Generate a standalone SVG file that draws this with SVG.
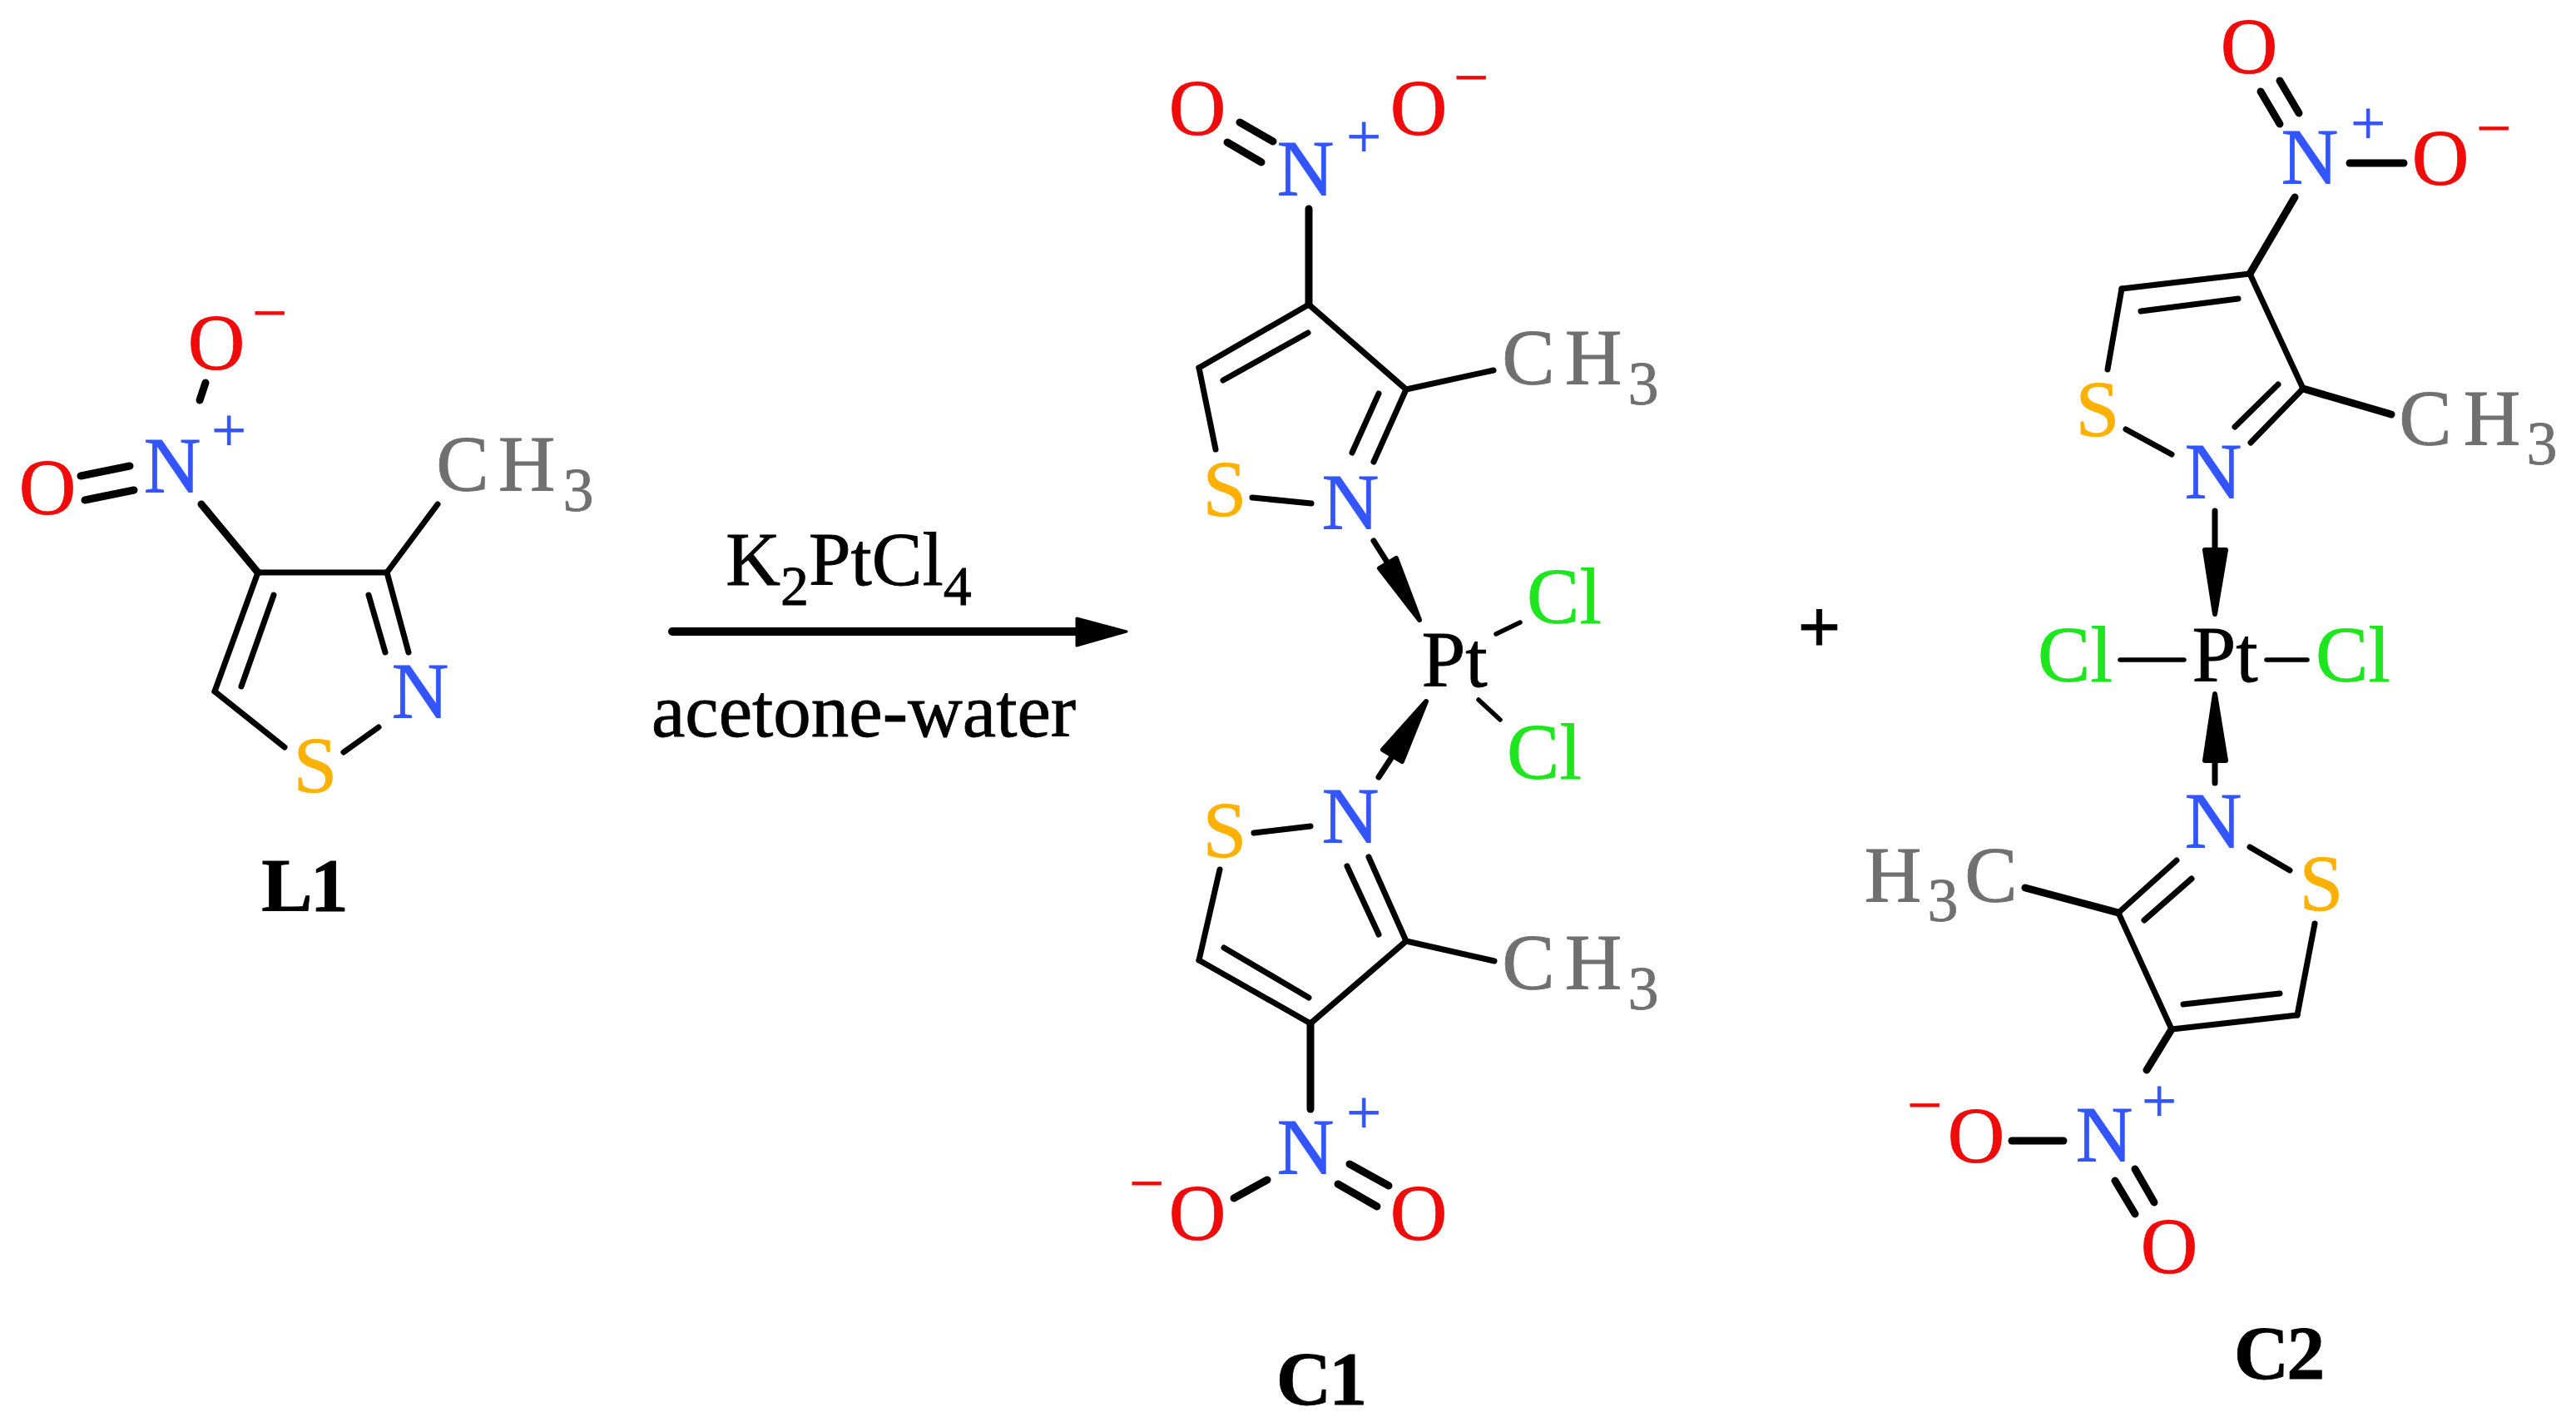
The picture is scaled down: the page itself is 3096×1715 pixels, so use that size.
<svg xmlns="http://www.w3.org/2000/svg" width="3096" height="1715" viewBox="0 0 3096 1715">
<style>
text{font-family:"Liberation Serif","Times New Roman",serif;font-size:95px;text-anchor:middle;stroke-width:.8}
.O{fill:#f00a0a;stroke:#f00a0a}.N{fill:#3355ff;stroke:#3355ff}.C{fill:#707070;stroke:#707070}.S{fill:#ffb000;stroke:#ffb000}.X{fill:#1ee61e;stroke:#1ee61e}.K{fill:#000;stroke:#000}
.s{font-size:74px}.b{font-weight:bold;font-size:92px;letter-spacing:-3px}.r{font-size:91px}
.bd line{stroke:#000;stroke-width:7;stroke-linecap:round;fill:none}
.bd line.t{stroke-width:9}
.bd line.n{stroke-width:5.5}
.w{fill:#000;stroke:#000;stroke-width:6;stroke-linejoin:round}
</style>
<rect width="3096" height="1715" fill="#fff"/>
<g id="connectors">
<g id="bonds-L1" class="bd">
<line x1="310" y1="688" x2="465" y2="688"/><line x1="310" y1="688" x2="258" y2="831"/><line x1="329" y1="715" x2="290" y2="825"/>
<line x1="258" y1="831" x2="342" y2="898"/><line x1="413" y1="904" x2="455" y2="874"/><line x1="465" y1="688" x2="491" y2="784"/><line x1="443" y1="715" x2="463" y2="784"/>
<line x1="465" y1="688" x2="526" y2="606"/><line class="t" x1="310" y1="688" x2="242" y2="606"/>
<line class="t" x1="97" y1="572" x2="156" y2="560"/><line class="t" x1="102" y1="601" x2="161" y2="589"/><line class="t" x1="240" y1="481" x2="247" y2="460"/>
</g>
<g id="reaction-arrow">
<line x1="808" y1="759" x2="1310" y2="759" stroke="#000" stroke-width="10" stroke-linecap="round"/>
<polygon points="1294,743 1354,759 1294,776" fill="#000" stroke="#000" stroke-width="3" stroke-linejoin="round"/>
</g>
<g id="bonds-C1" class="bd">
<line x1="1573" y1="366" x2="1441" y2="442"/><line x1="1572" y1="400" x2="1470" y2="457"/><line x1="1441" y1="442" x2="1461" y2="540"/>
<line x1="1505" y1="598" x2="1576" y2="605"/><line x1="1573" y1="366" x2="1690" y2="468"/><line x1="1690" y1="468" x2="1651" y2="555"/><line x1="1657" y1="473" x2="1625" y2="544"/>
<line x1="1690" y1="468" x2="1795" y2="445"/><line class="t" x1="1573" y1="366" x2="1573" y2="251"/>
<line class="t" x1="1490" y1="147" x2="1530" y2="170"/><line class="t" x1="1475" y1="171" x2="1516" y2="195"/>
<line x1="1651" y1="650" x2="1668" y2="677"/><polygon class="w" points="1658,683 1678,671 1706,745"/>
<line class="n" x1="1798" y1="762" x2="1827" y2="748"/><line class="n" x1="1777" y1="841" x2="1803" y2="865"/>
<polygon class="w" points="1714,843 1662,901 1685,915"/><line x1="1674" y1="908" x2="1657" y2="934"/>
<line x1="1507" y1="1001" x2="1575" y2="993"/><line x1="1466" y1="1045" x2="1441" y2="1154"/><line x1="1441" y1="1154" x2="1575" y2="1230"/><line x1="1471" y1="1139" x2="1573" y2="1199"/>
<line x1="1575" y1="1230" x2="1690" y2="1131"/><line x1="1690" y1="1131" x2="1645" y2="1030"/><line x1="1619" y1="1041" x2="1657" y2="1123"/><line x1="1690" y1="1131" x2="1796" y2="1155"/>
<line class="t" x1="1575" y1="1230" x2="1575" y2="1333"/><line class="t" x1="1483" y1="1440" x2="1523" y2="1418"/><line class="t" x1="1622" y1="1399" x2="1669" y2="1425"/><line class="t" x1="1608" y1="1423" x2="1655" y2="1450"/>
</g>
<g id="bonds-C2" class="bd">
<line class="t" x1="2717" y1="110" x2="2740" y2="149"/><line class="t" x1="2740" y1="97" x2="2763" y2="136"/><line class="t" x1="2824" y1="196" x2="2889" y2="196"/><line class="t" x1="2758" y1="237" x2="2704" y2="329"/>
<line x1="2704" y1="329" x2="2550" y2="347"/><line x1="2690" y1="359" x2="2573" y2="374"/><line x1="2550" y1="347" x2="2533" y2="444"/><line x1="2704" y1="329" x2="2768" y2="467"/>
<line x1="2768" y1="467" x2="2705" y2="532"/><line x1="2738" y1="462" x2="2686" y2="513"/><line class="t" x1="2768" y1="467" x2="2874" y2="498"/><line x1="2555" y1="516" x2="2610" y2="546"/>
<line x1="2662" y1="614" x2="2662" y2="658"/><polygon class="w" points="2650,661 2675,661 2662,738"/>
<line class="n" x1="2548" y1="793" x2="2625" y2="793"/><line class="n" x1="2724" y1="793" x2="2773" y2="793"/>
<polygon class="w" points="2662,834 2650,914 2675,914"/><line x1="2662" y1="914" x2="2662" y2="941"/>
<line x1="2704" y1="1018" x2="2752" y2="1046"/><line x1="2782" y1="1110" x2="2761" y2="1220"/><line x1="2761" y1="1220" x2="2610" y2="1237"/><line x1="2740" y1="1194" x2="2624" y2="1207"/>
<line x1="2610" y1="1237" x2="2546" y2="1097"/><line x1="2546" y1="1097" x2="2616" y2="1034"/><line x1="2634" y1="1056" x2="2577" y2="1106"/><line class="t" x1="2546" y1="1097" x2="2434" y2="1067"/>
<line class="t" x1="2610" y1="1237" x2="2580" y2="1286"/><line class="t" x1="2418" y1="1371" x2="2480" y2="1371"/><line class="t" x1="2566" y1="1405" x2="2589" y2="1445"/><line class="t" x1="2542" y1="1419" x2="2566" y2="1459"/>
</g>
</g>
<g id="L1">
<text class="O" x="57" y="618">O</text><text class="O" x="260" y="444">O</text><text class="O s" x="324" y="401">−</text>
<text class="N" x="207" y="592">N</text><text class="N s" x="275" y="542">+</text>
<text class="C" x="556" y="590">C</text><text class="C" x="633" y="590">H</text><text class="C s" x="695" y="614">3</text>
<text class="N" x="505" y="863">N</text><text class="S" x="379" y="952">S</text>
<text class="K b" x="365" y="1095">L1</text>
</g>
<g id="reaction-conditions">
<text class="K r" x="1020" y="703">K<tspan font-size="68" dy="24">2</tspan><tspan dy="-24">PtCl</tspan><tspan font-size="68" dy="24">4</tspan></text>
<text class="K r" x="1038" y="885">acetone-water</text>
</g>
<g id="C1">
<text class="O" x="1439" y="162">O</text><text class="O" x="1705" y="162">O</text><text class="O s" x="1768" y="118">−</text>
<text class="N" x="1569" y="235">N</text><text class="N s" x="1639" y="189">+</text>
<text class="C" x="1837" y="462">C</text><text class="C" x="1915" y="462">H</text><text class="C s" x="1975" y="486">3</text>
<text class="S" x="1472" y="620">S</text><text class="N" x="1623" y="636">N</text>
<text class="K" x="1748" y="825">Pt</text><text class="X" x="1880" y="749">Cl</text><text class="X" x="1856" y="936">Cl</text>
<text class="S" x="1472" y="1030">S</text><text class="N" x="1623" y="1013">N</text>
<text class="C" x="1837" y="1189">C</text><text class="C" x="1915" y="1189">H</text><text class="C s" x="1975" y="1213">3</text>
<text class="N" x="1569" y="1411">N</text><text class="N s" x="1639" y="1362">+</text>
<text class="O s" x="1378" y="1447">−</text><text class="O" x="1439" y="1490">O</text><text class="O" x="1705" y="1490">O</text>
<text class="K b" x="1587" y="1688">C1</text>
</g>
<g id="plus"><text class="K b" x="2185" y="784">+</text></g>
<g id="C2">
<text class="O" x="2703" y="88">O</text><text class="N" x="2776" y="221">N</text><text class="N s" x="2846" y="173">+</text><text class="O" x="2933" y="222">O</text><text class="O s" x="2997" y="179">−</text>
<text class="S" x="2521" y="524">S</text><text class="N" x="2660" y="599">N</text>
<text class="C" x="2915" y="535">C</text><text class="C" x="2995" y="535">H</text><text class="C s" x="3055" y="558">3</text>
<text class="X" x="2494" y="819">Cl</text><text class="K" x="2674" y="819">Pt</text><text class="X" x="2828" y="819">Cl</text>
<text class="N" x="2660" y="1019">N</text><text class="S" x="2790" y="1094">S</text>
<text class="C" x="2275" y="1084">H</text><text class="C s" x="2335" y="1107">3</text><text class="C" x="2393" y="1084">C</text>
<text class="N" x="2529" y="1396">N</text><text class="N s" x="2595" y="1348">+</text><text class="O s" x="2313" y="1353">−</text><text class="O" x="2375" y="1397">O</text><text class="O" x="2607" y="1530">O</text>
<text class="K b" x="2738" y="1657">C2</text>
</g>
</svg>
